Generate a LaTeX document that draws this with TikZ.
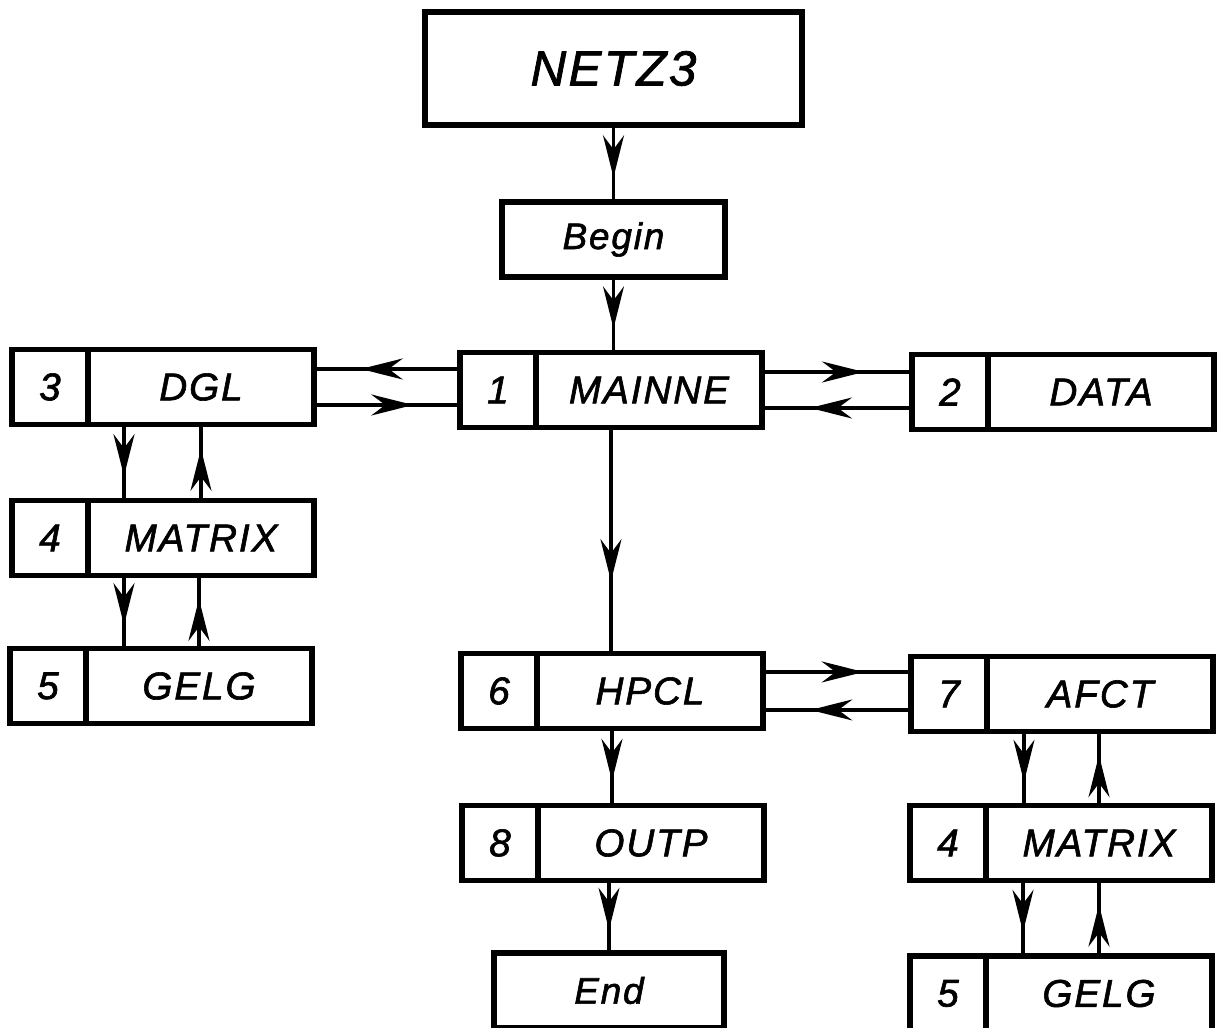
\documentclass[tikz,border=0pt]{standalone}
\usepackage{fontspec}
\newfontfamily\boxfont{Liberation Sans}[LetterSpace=5, ItalicFeatures={FakeBold=1.6}]
\usetikzlibrary{calc,positioning,arrows.meta,decorations.markings}
\tikzset{
  box/.style={draw, line width=1.5pt, inner sep=0pt, outer sep=0pt, minimum height=0.75cm, font=\boxfont\itshape\fontsize{11}{13}\selectfont},
  nr/.style={box, minimum width=0.76cm},
  prog/.style={box, minimum width=2.26cm},
  flow/.style={line width=0.95pt, postaction={decorate}, decoration={markings, mark=at position 0.68 with {\arrow{Stealth[length=4.2mm,width=2.1mm,inset=1.4mm]}}}}
}

\begin{document}
\begin{tikzpicture}
\useasboundingbox (0,0) rectangle (12.17,10.28); \clip (0,0) rectangle (12.17,10.28);
\fill[white] (0,0) rectangle (12.17,10.28);
\node[box, minimum width=3.77cm, minimum height=1.13cm, font=\boxfont\itshape\fontsize{14}{16}\selectfont] (netz) at (6.135,9.595) {NETZ3};
\node[box, minimum width=2.23cm, font=\boxfont\itshape\fontsize{10.5}{12}\selectfont] (begin) at (6.135,7.885) {Begin};
\node[nr] (n1) at (4.98,6.38) {1}; \node[prog, right=0pt of n1] (mainne) {MAINNE};
\node[nr] (n2) at (9.50,6.36) {2}; \node[prog, right=0pt of n2] (data) {DATA};
\node[nr] (n3) at (0.50,6.41) {3}; \node[prog, right=0pt of n3] (dgl) {DGL};
\node[nr] (n4) at (0.50,4.90) {4}; \node[prog, right=0pt of n4] (matrix) {MATRIX};
\node[nr] (n5) at (0.48,3.42) {5}; \node[prog, right=0pt of n5] (gelg) {GELG};
\node[nr] (n6) at (4.99,3.37) {6}; \node[prog, right=0pt of n6] (hpcl) {HPCL};
\node[nr] (n7) at (9.49,3.34) {7}; \node[prog, right=0pt of n7] (afct) {AFCT};
\node[nr] (n8) at (5.00,1.85) {8}; \node[prog, right=0pt of n8] (outp) {OUTP};
\node[nr] (n4b) at (9.48,1.85) {4}; \node[prog, right=0pt of n4b] (matrixb) {MATRIX};
\node[nr] (n5b) at (9.48,0.345) {5}; \node[prog, right=0pt of n5b] (gelgb) {GELG};
\node[box, minimum width=2.30cm, font=\boxfont\itshape\fontsize{10.5}{12}\selectfont] (ende) at (6.09,0.375) {End};
\coordinate (c1) at ($(n1.west)!0.5!(mainne.east)$); \coordinate (c6) at ($(n6.west)!0.5!(hpcl.east)$);
\draw[flow] (netz.south) -- (begin.north);
\draw[flow] (begin.south) -- (begin.south |- mainne.north);
\draw[flow] (c1 |- mainne.south) -- (c1 |- hpcl.north);
\draw[flow] (c6 |- hpcl.south) -- (c6 |- outp.north);
\draw[flow] (ende.north |- outp.south) -- (ende.north);
\draw[flow] ([yshift=1.8mm]mainne.east) -- ([yshift=1.8mm]mainne.east -| n2.west);
\draw[flow] ([yshift=-1.8mm]mainne.east -| n2.west) -- ([yshift=-1.8mm]mainne.east);
\draw[flow] ([yshift=1.8mm]dgl.east -| n1.west) -- ([yshift=1.8mm]dgl.east);
\draw[flow] ([yshift=-1.8mm]dgl.east) -- ([yshift=-1.8mm]dgl.east -| n1.west);
\draw[flow] ([yshift=1.9mm]hpcl.east) -- ([yshift=1.9mm]hpcl.east -| n7.west);
\draw[flow] ([yshift=-1.9mm]hpcl.east -| n7.west) -- ([yshift=-1.9mm]hpcl.east);
\draw[flow] ([xshift=3.6mm]n3.south east) -- ([xshift=3.6mm]n3.south east |- n4.north);
\draw[flow] (matrix.north) -- (matrix.north |- dgl.south);
\draw[flow] ([xshift=3.6mm]n4.south east) -- ([xshift=3.6mm]n4.south east |- n5.north);
\draw[flow] (gelg.north) -- (gelg.north |- matrix.south);
\draw[flow] ([xshift=3.7mm]n7.south east) -- ([xshift=3.7mm]n7.south east |- n4b.north);
\draw[flow] (matrixb.north) -- (matrixb.north |- afct.south);
\draw[flow] ([xshift=3.7mm]n4b.south east) -- ([xshift=3.7mm]n4b.south east |- n5b.north);
\draw[flow] (gelgb.north) -- (gelgb.north |- matrixb.south);
\end{tikzpicture}
\end{document}
